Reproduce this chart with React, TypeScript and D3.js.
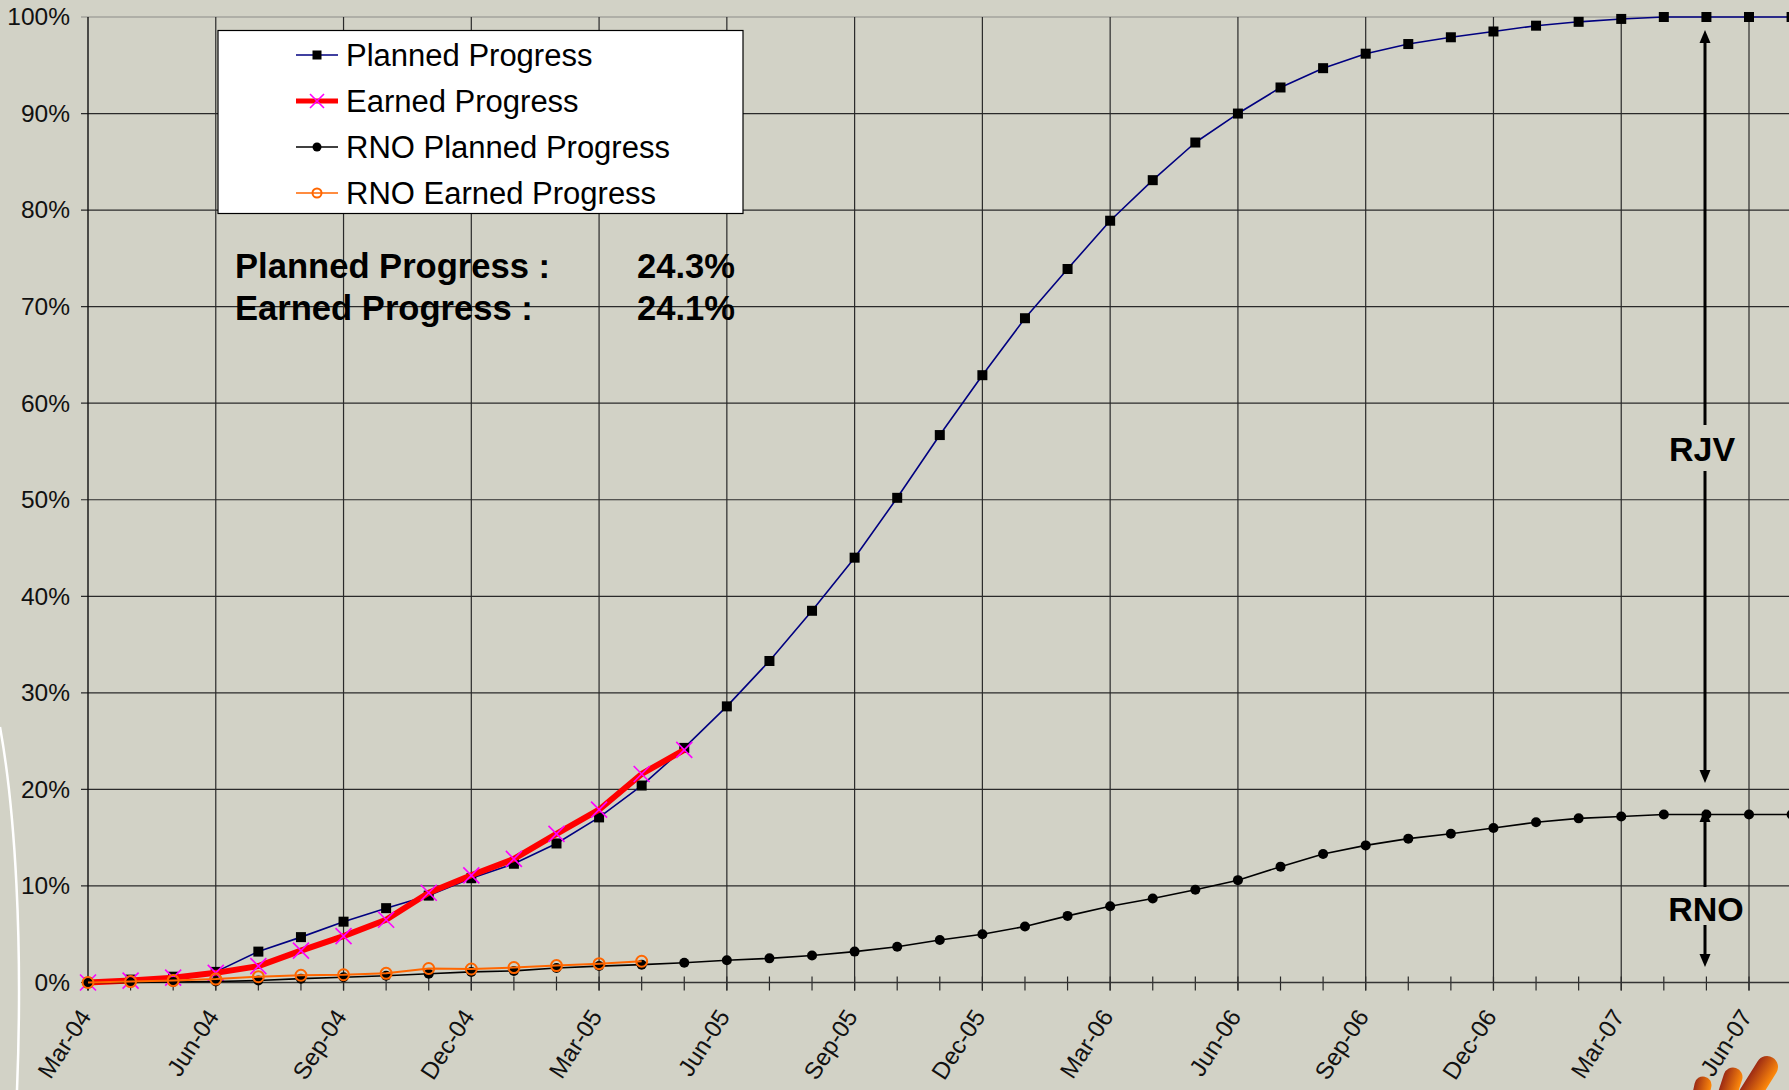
import React, { useRef, useEffect } from "react";
import * as d3 from "d3";

// month categories (one point per month)
const months = [
  "Mar-04", "Apr-04", "May-04", "Jun-04", "Jul-04", "Aug-04", "Sep-04", "Oct-04", "Nov-04", "Dec-04",
  "Jan-05", "Feb-05", "Mar-05", "Apr-05", "May-05", "Jun-05", "Jul-05", "Aug-05", "Sep-05", "Oct-05",
  "Nov-05", "Dec-05", "Jan-06", "Feb-06", "Mar-06", "Apr-06", "May-06", "Jun-06", "Jul-06", "Aug-06",
  "Sep-06", "Oct-06", "Nov-06", "Dec-06", "Jan-07", "Feb-07", "Mar-07", "Apr-07", "May-07", "Jun-07",
  "Jul-07",
];

// values in %
const planned = [
  0, 0.3, 0.6, 1.1, 3.2, 4.7, 6.3, 7.7, 9.0, 10.8,
  12.3, 14.4, 17.1, 20.4, 24.3, 28.6, 33.3, 38.5, 44.0, 50.2,
  56.7, 62.9, 68.8, 73.9, 78.9, 83.1, 87.0, 90.0, 92.7, 94.7,
  96.2, 97.2, 97.9, 98.5, 99.1, 99.5, 99.8, 100, 100, 100,
  100,
];
const earned = [0, 0.2, 0.5, 1.0, 1.7, 3.3, 4.8, 6.5, 9.3, 11.1, 12.8, 15.4, 17.9, 21.6, 24.1];
const rnoPlanned = [
  0, 0, 0.05, 0.1, 0.2, 0.4, 0.55, 0.7, 0.9, 1.1,
  1.2, 1.5, 1.7, 1.85, 2.05, 2.3, 2.5, 2.8, 3.2, 3.7,
  4.4, 5.0, 5.8, 6.9, 7.9, 8.7, 9.6, 10.6, 12.0, 13.3,
  14.2, 14.9, 15.4, 16.0, 16.6, 17.0, 17.2, 17.4, 17.4, 17.4,
  17.4,
];
const rnoEarned = [0, 0.1, 0.2, 0.35, 0.6, 0.75, 0.8, 0.95, 1.45, 1.4, 1.55, 1.75, 1.95, 2.2];

const yTicks = [0, 10, 20, 30, 40, 50, 60, 70, 80, 90, 100];
const seriesNames = ["Planned Progress", "Earned Progress", "RNO Planned Progress", "RNO Earned Progress"];
const summary = [
  { label: "Planned Progress :", value: "24.3%" },
  { label: "Earned Progress :", value: "24.1%" },
];

const W = 1789;
const H = 1090;
const FONT = "'Liberation Sans', Arial, Helvetica, sans-serif";
const BG = "#d2d2c6";

const App = () => {
  const svgRef = useRef(null);

  useEffect(() => {
    const svg = d3.select(svgRef.current);
    svg.selectAll("*").remove();

    const left = 88;
    const top = 17;
    const bottom = 982.5;

    const x = d3.scaleLinear().domain([0, 39]).range([left, 1749]);
    const y = d3.scaleLinear().domain([0, 100]).range([bottom, top]);

    svg.append("rect").attr("width", W).attr("height", H).attr("fill", BG);

    // slide decoration on the left
    svg
      .append("path")
      .attr("d", "M0,727 C15,810 23,940 17,1090")
      .attr("fill", "none")
      .attr("stroke", "#fff")
      .attr("stroke-width", 2.5);

    // horizontal grid
    svg
      .append("g")
      .selectAll("line")
      .data(yTicks)
      .enter()
      .append("line")
      .attr("x1", left - 7)
      .attr("x2", W)
      .attr("y1", (d) => y(d))
      .attr("y2", (d) => y(d))
      .attr("stroke", (d) => (d === 100 ? "#8c8c88" : "#2a2a2a"))
      .attr("stroke-width", 1.2);

    // vertical grid every quarter
    const quarters = months.map((m, i) => i).filter((i) => i % 3 === 0);
    svg
      .append("g")
      .selectAll("line")
      .data(quarters.filter((i) => i > 0))
      .enter()
      .append("line")
      .attr("x1", (d) => x(d))
      .attr("x2", (d) => x(d))
      .attr("y1", top)
      .attr("y2", bottom + 8)
      .attr("stroke", "#2a2a2a")
      .attr("stroke-width", 1.2);

    // monthly ticks
    svg
      .append("g")
      .selectAll("line")
      .data(months.map((m, i) => i))
      .enter()
      .append("line")
      .attr("x1", (d) => x(d))
      .attr("x2", (d) => x(d))
      .attr("y1", bottom - 6)
      .attr("y2", bottom + 8)
      .attr("stroke", "#2a2a2a")
      .attr("stroke-width", 1.2);

    // axes lines
    svg
      .append("line")
      .attr("x1", left)
      .attr("x2", left)
      .attr("y1", top)
      .attr("y2", bottom + 8)
      .attr("stroke", "#111")
      .attr("stroke-width", 1.4);
    svg
      .append("line")
      .attr("x1", left)
      .attr("x2", W)
      .attr("y1", bottom)
      .attr("y2", bottom)
      .attr("stroke", "#333")
      .attr("stroke-width", 1.6);

    // y labels
    const yAxis = d3
      .axisLeft(y)
      .tickValues(yTicks)
      .tickFormat((d) => d + "%")
      .tickSize(0)
      .tickPadding(18);
    const gy = svg.append("g").attr("transform", `translate(${left},0)`).call(yAxis);
    gy.select(".domain").remove();
    gy.selectAll("text")
      .attr("font-family", FONT)
      .attr("font-size", 24.5)
      .attr("fill", "#111");

    // x labels
    svg
      .append("g")
      .selectAll("text")
      .data(quarters)
      .enter()
      .append("text")
      .attr("transform", (d) => `translate(${x(d) + 4},${bottom + 34}) rotate(-57)`)
      .attr("text-anchor", "end")
      .attr("font-family", FONT)
      .attr("font-size", 24)
      .attr("fill", "#111")
      .text((d) => months[d]);

    const line = d3
      .line()
      .x((d, i) => x(i))
      .y((d) => y(d));

    const sq = (g, s) =>
      g.append("rect").attr("x", -s / 2).attr("y", -s / 2).attr("width", s).attr("height", s).attr("fill", "#000");
    const cross = (g, s) =>
      g
        .append("path")
        .attr("d", `M${-s},${-s}L${s},${s}M${-s},${s}L${s},${-s}`)
        .attr("stroke", "#ff00ff")
        .attr("stroke-width", 1.6)
        .attr("fill", "none");
    const dot = (g, r) => g.append("circle").attr("r", r).attr("fill", "#000");
    const ring = (g, r) =>
      g.append("circle").attr("r", r).attr("fill", "none").attr("stroke", "#ff6600").attr("stroke-width", 2);

    const series = [
      { data: planned, color: "#000080", width: 1.6, marker: (g) => sq(g, 10), legend: (g) => sq(g, 9) },
      { data: earned, color: "#ff0000", width: 6, marker: (g) => cross(g, 8), legend: (g) => cross(g, 7) },
      { data: rnoPlanned, color: "#000", width: 1.6, marker: (g) => dot(g, 5), legend: (g) => dot(g, 4.5) },
      { data: rnoEarned, color: "#ff6600", width: 2, marker: (g) => ring(g, 5.5), legend: (g) => ring(g, 4.5) },
    ];

    series.forEach((s) => {
      svg
        .append("path")
        .attr("d", line(s.data))
        .attr("fill", "none")
        .attr("stroke", s.color)
        .attr("stroke-width", s.width)
        .attr("stroke-linejoin", "round");
      s.data.forEach((v, i) => {
        const g = svg.append("g").attr("transform", `translate(${x(i)},${y(v)})`);
        s.marker(g);
      });
    });

    // legend
    const lg = svg.append("g");
    lg.append("rect")
      .attr("x", 218)
      .attr("y", 30.5)
      .attr("width", 525)
      .attr("height", 183)
      .attr("fill", "#fff")
      .attr("stroke", "#000")
      .attr("stroke-width", 1.2);
    series.forEach((s, i) => {
      const ry = 55 + i * 46;
      lg.append("line")
        .attr("x1", 296)
        .attr("x2", 338)
        .attr("y1", ry)
        .attr("y2", ry)
        .attr("stroke", s.color)
        .attr("stroke-width", i === 1 ? 5 : 1.6);
      s.legend(lg.append("g").attr("transform", `translate(317,${ry})`));
      lg.append("text")
        .attr("x", 346)
        .attr("y", ry + 10.5)
        .attr("font-family", FONT)
        .attr("font-size", 31)
        .attr("fill", "#000")
        .text(seriesNames[i]);
    });

    // summary text
    summary.forEach((s, i) => {
      const by = 277.5 + i * 42.5;
      svg
        .append("text")
        .attr("x", 235)
        .attr("y", by)
        .attr("font-family", FONT)
        .attr("font-weight", "bold")
        .attr("font-size", 34.6)
        .text(s.label);
      svg
        .append("text")
        .attr("x", 735)
        .attr("y", by)
        .attr("text-anchor", "end")
        .attr("font-family", FONT)
        .attr("font-weight", "bold")
        .attr("font-size", 34.6)
        .text(s.value);
    });

    // RJV / RNO arrows
    const ax = 1705;
    const arrow = (y1, y2) => {
      const dir = y2 > y1 ? 1 : -1;
      svg
        .append("line")
        .attr("x1", ax)
        .attr("x2", ax)
        .attr("y1", y1)
        .attr("y2", y2 - dir * 10)
        .attr("stroke", "#000")
        .attr("stroke-width", 3);
      svg
        .append("path")
        .attr("d", `M${ax},${y2}L${ax - 5.5},${y2 - dir * 13}L${ax + 5.5},${y2 - dir * 13}Z`)
        .attr("fill", "#000");
    };
    arrow(425, 30);
    arrow(471, 783);
    arrow(887, 809);
    arrow(925, 967);

    [
      { t: "RJV", cx: 1702, by: 460.5 },
      { t: "RNO", cx: 1706, by: 921 },
    ].forEach((a) => {
      svg
        .append("text")
        .attr("x", a.cx)
        .attr("y", a.by)
        .attr("text-anchor", "middle")
        .attr("font-family", FONT)
        .attr("font-weight", "bold")
        .attr("font-size", 34)
        .text(a.t);
    });

    // corner logo
    const defs = svg.append("defs");
    const grad = defs
      .append("linearGradient")
      .attr("id", "logoGrad")
      .attr("x1", "0")
      .attr("x2", "1")
      .attr("y1", "0")
      .attr("y2", "0");
    grad.append("stop").attr("offset", "0").attr("stop-color", "#9c2a14");
    grad.append("stop").attr("offset", "1").attr("stop-color", "#ff8a0a");
    [
      { cx: 1703, cy: 1085, w: 17, a: 12 },
      { cx: 1733, cy: 1077, w: 19, a: 18 },
      { cx: 1767, cy: 1067, w: 22, a: 32 },
    ].forEach((b) => {
      svg
        .append("rect")
        .attr("x", -b.w / 2)
        .attr("y", -b.w / 2)
        .attr("width", b.w)
        .attr("height", 60)
        .attr("rx", b.w / 2)
        .attr("fill", "url(#logoGrad)")
        .attr("transform", `translate(${b.cx},${b.cy}) rotate(${b.a})`);
    });
  }, []);

  return (
    <svg
      ref={svgRef}
      width={W}
      height={H}
      style={{ position: "absolute", left: 0, top: 0, display: "block" }}
    />
  );
};

export default App;
